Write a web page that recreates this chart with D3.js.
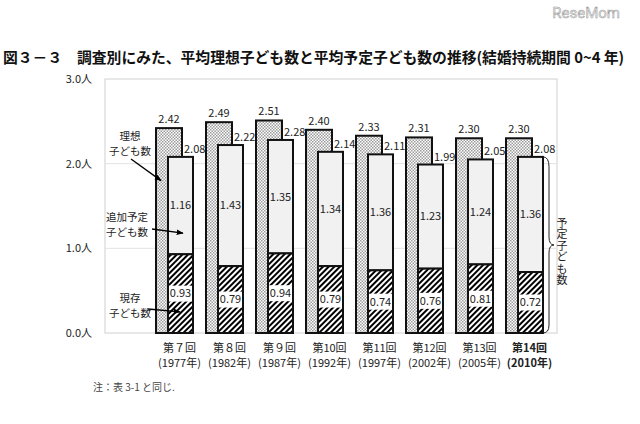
<!DOCTYPE html>
<html>
<head>
<meta charset="utf-8">
<script src="https://cdn.jsdelivr.net/npm/d3@7"></script>
<style>
  body { margin: 0; background: #fff; }
  svg { display: block; font-family: "Noto Sans CJK JP", "Noto Sans", sans-serif; }
</style>
</head>
<body>
<div id="chart"></div>
<script>
// Survey rounds and years
const rounds = ['第７回', '第８回', '第９回', '第10回', '第11回', '第12回', '第13回', '第14回'];
const years = ['(1977年)', '(1982年)', '(1987年)', '(1992年)', '(1997年)', '(2002年)', '(2005年)', '(2010年)'];

// Average ideal / expected number of children
const ideal = [2.42, 2.49, 2.51, 2.40, 2.33, 2.31, 2.30, 2.30];
const expected = [2.08, 2.22, 2.28, 2.14, 2.11, 1.99, 2.05, 2.08];
const additional = [1.16, 1.43, 1.35, 1.34, 1.36, 1.23, 1.24, 1.36];
const existing = [0.93, 0.79, 0.94, 0.79, 0.74, 0.76, 0.81, 0.72];

const yTicks = [0, 1, 2, 3];

const width = 640, height = 424;
const plot = { left: 105, right: 557, top: 79, bottom: 333 };

const svg = d3.select('#chart').append('svg')
    .attr('width', width)
    .attr('height', height);

// Patterns
const defs = svg.append('defs');
const dots = defs.append('pattern')
    .attr('id', 'dots')
    .attr('patternUnits', 'userSpaceOnUse')
    .attr('width', 3).attr('height', 3);
dots.append('rect').attr('width', 3).attr('height', 3).attr('fill', '#fff');
dots.append('rect').attr('width', 1.5).attr('height', 1.5).attr('fill', '#9c9c9c');
dots.append('rect').attr('x', 1.5).attr('y', 1.5).attr('width', 1.5).attr('height', 1.5).attr('fill', '#9c9c9c');

const hatch = defs.append('pattern')
    .attr('id', 'hatch')
    .attr('patternUnits', 'userSpaceOnUse')
    .attr('width', 4).attr('height', 4)
    .attr('patternTransform', 'rotate(45)');
hatch.append('rect').attr('width', 4).attr('height', 4).attr('fill', '#fff');
hatch.append('line').attr('x1', 1).attr('y1', 0).attr('x2', 1).attr('y2', 4)
    .attr('stroke', '#000').attr('stroke-width', 2);

defs.append('marker')
    .attr('id', 'arrow')
    .attr('viewBox', '0 -5 10 10')
    .attr('refX', 9).attr('refY', 0)
    .attr('markerWidth', 7).attr('markerHeight', 7)
    .attr('markerUnits', 'userSpaceOnUse')
    .attr('orient', 'auto')
    .append('path')
    .attr('d', 'M0,-4L10,0L0,4Z')
    .attr('fill', '#000');

// Scales
const x = d3.scaleBand().domain(rounds).range([131, 531]);
const y = d3.scaleLinear().domain([0, 3]).range([plot.bottom, plot.top]);
const bw = x.bandwidth();
const idealX = d => x(d) + bw * 0.5;
const idealW = bw * 0.52;
const expX = d => x(d) + bw * 0.74;
const expW = bw * 0.5;

// Title
svg.append('text')
    .attr('x', 3).attr('y', 63)
    .attr('font-size', 14.8)
    .attr('font-weight', 'bold')
    .attr('fill', '#111')
    .text('図３－３　調査別にみた、平均理想子ども数と平均予定子ども数の推移(結婚持続期間 0~4 年)');

// Watermark
svg.append('text')
    .attr('x', 620).attr('y', 18)
    .attr('text-anchor', 'end')
    .attr('font-family', 'Roboto, sans-serif')
    .attr('font-size', 15)
    .attr('fill', '#e8e8e8')
    .attr('stroke', '#9a9a9a')
    .attr('stroke-width', 0.5)
    .text('ReseMom');

// Frame and grid
svg.append('rect')
    .attr('x', plot.left).attr('y', plot.top)
    .attr('width', plot.right - plot.left).attr('height', plot.bottom - plot.top)
    .attr('fill', 'none').attr('stroke', '#d0d0d0');

svg.append('g').selectAll('line')
    .data(yTicks.slice(1, 3))
    .join('line')
    .attr('x1', plot.left).attr('x2', plot.right)
    .attr('y1', d => y(d)).attr('y2', d => y(d))
    .attr('stroke', '#e2e2e2');

const yAxis = svg.append('g')
    .attr('transform', `translate(${plot.left},0)`)
    .call(d3.axisLeft(y).tickValues(yTicks).tickSize(0).tickPadding(13)
        .tickFormat(d => d3.format('.1f')(d) + '人'));
yAxis.select('.domain').remove();
yAxis.selectAll('text').attr('font-size', 11).attr('fill', '#222')
    .attr('font-family', '"Noto Sans CJK JP", sans-serif');

const bars = svg.append('g');

// Ideal bars
bars.selectAll('rect.ideal')
    .data(rounds)
    .join('rect')
    .attr('class', 'ideal')
    .attr('x', d => idealX(d))
    .attr('y', (d, i) => y(ideal[i]))
    .attr('width', idealW)
    .attr('height', (d, i) => y(0) - y(ideal[i]))
    .attr('fill', 'url(#dots)')
    .attr('stroke', '#111').attr('stroke-width', 2);

// Expected: additional part
bars.selectAll('rect.add')
    .data(rounds)
    .join('rect')
    .attr('class', 'add')
    .attr('x', d => expX(d))
    .attr('y', (d, i) => y(expected[i]))
    .attr('width', expW)
    .attr('height', (d, i) => y(existing[i]) - y(expected[i]))
    .attr('fill', '#f1f1f1')
    .attr('stroke', '#111').attr('stroke-width', 2);

// Expected: existing part
bars.selectAll('rect.exist')
    .data(rounds)
    .join('rect')
    .attr('class', 'exist')
    .attr('x', d => expX(d))
    .attr('y', (d, i) => y(existing[i]))
    .attr('width', expW)
    .attr('height', (d, i) => y(0) - y(existing[i]))
    .attr('fill', 'url(#hatch)')
    .attr('stroke', '#111').attr('stroke-width', 2);

// Labels
const fmt = d3.format('.2f');
const labels = svg.append('g').attr('font-size', 11).attr('fill', '#222');

labels.selectAll('text.ideal')
    .data(rounds)
    .join('text')
    .attr('x', d => idealX(d) + idealW / 2)
    .attr('y', (d, i) => y(ideal[i]) - 5)
    .attr('text-anchor', 'middle')
    .text((d, i) => fmt(ideal[i]));

labels.selectAll('text.exp')
    .data(rounds)
    .join('text')
    .attr('x', d => idealX(d) + idealW + 2)
    .attr('y', (d, i) => y(expected[i]) - 4)
    .text((d, i) => fmt(expected[i]));

labels.selectAll('text.add')
    .data(rounds)
    .join('text')
    .attr('x', d => expX(d) + expW / 2)
    .attr('y', (d, i) => (y(expected[i]) + y(existing[i])) / 2)
    .attr('dy', '0.35em')
    .attr('text-anchor', 'middle')
    .text((d, i) => fmt(additional[i]));

const boxes = svg.append('g');
boxes.selectAll('rect')
    .data(rounds)
    .join('rect')
    .attr('x', d => expX(d) + 1)
    .attr('y', (d, i) => (y(existing[i]) + y(0)) / 2 - 8)
    .attr('width', expW - 2)
    .attr('height', 16)
    .attr('fill', '#fff');
boxes.selectAll('text')
    .data(rounds)
    .join('text')
    .attr('x', d => expX(d) + expW / 2)
    .attr('y', (d, i) => (y(existing[i]) + y(0)) / 2)
    .attr('dy', '0.35em')
    .attr('text-anchor', 'middle')
    .attr('font-size', 11)
    .attr('fill', '#222')
    .text((d, i) => fmt(existing[i]));

// Category labels
const cats = svg.append('g').attr('font-size', 11).attr('fill', '#222').attr('text-anchor', 'middle');
cats.selectAll('text.round')
    .data(rounds)
    .join('text')
    .attr('x', d => expX(d) + expW / 2 - 1)
    .attr('y', 352)
    .attr('font-weight', (d, i) => i === rounds.length - 1 ? 'bold' : 'normal')
    .text(d => d);
cats.selectAll('text.year')
    .data(years)
    .join('text')
    .attr('x', (d, i) => expX(rounds[i]) + expW / 2 - 1)
    .attr('y', 367)
    .attr('font-weight', (d, i) => i === years.length - 1 ? 'bold' : 'normal')
    .text(d => d);

// Annotations with arrows
const first = rounds[0];
const notes = [
    { lines: ['理想', '子ども数'], tx: 130, ty: 136, from: [131, 159], to: [idealX(first) + 5, y(1.8)] },
    { lines: ['追加予定', '子ども数'], tx: 127, ty: 217, from: [152, 229], to: [expX(first) + 15, y(1.18)] },
    { lines: ['現存', '子ども数'], tx: 130, ty: 298, from: [148, 309], to: [expX(first) + 12, y(0.25)] }
];
const ann = svg.append('g').attr('font-size', 10.5).attr('fill', '#222');
notes.forEach(n => {
    n.lines.forEach((t, k) => {
        ann.append('text')
            .attr('x', n.tx).attr('y', n.ty + k * 15)
            .attr('dy', '0.35em')
            .attr('text-anchor', 'middle')
            .text(t);
    });
    ann.append('line')
        .attr('x1', n.from[0]).attr('y1', n.from[1])
        .attr('x2', n.to[0]).attr('y2', n.to[1])
        .attr('stroke', '#000').attr('stroke-width', 1.3)
        .attr('marker-end', 'url(#arrow)');
});

// Brace for expected total on the last round
const last = rounds[rounds.length - 1];
const bx = expX(last) + expW;
const bTop = y(expected[expected.length - 1]);
const bBot = y(0);
const bMid = (bTop + bBot) / 2;
svg.append('path')
    .attr('d', `M${bx},${bTop} Q${bx + 6},${bTop} ${bx + 6},${bTop + 10}
        L${bx + 6},${bMid - 8} Q${bx + 6},${bMid} ${bx + 11},${bMid}
        Q${bx + 6},${bMid} ${bx + 6},${bMid + 8}
        L${bx + 6},${bBot - 8} Q${bx + 6},${bBot} ${bx},${bBot}`)
    .attr('fill', 'none')
    .attr('stroke', '#222').attr('stroke-width', 1);

// Vertical label beside the brace
svg.append('text')
    .attr('x', 562).attr('y', 217)
    .attr('writing-mode', 'vertical-rl')
    .attr('font-size', 11)
    .attr('letter-spacing', 0.5)
    .attr('fill', '#222')
    .text('予定子ども数');

// Footnote
svg.append('text')
    .attr('x', 93).attr('y', 391)
    .attr('font-size', 10)
    .attr('fill', '#444')
    .text('注：表 3-1 と同じ.');
</script>
</body>
</html>
